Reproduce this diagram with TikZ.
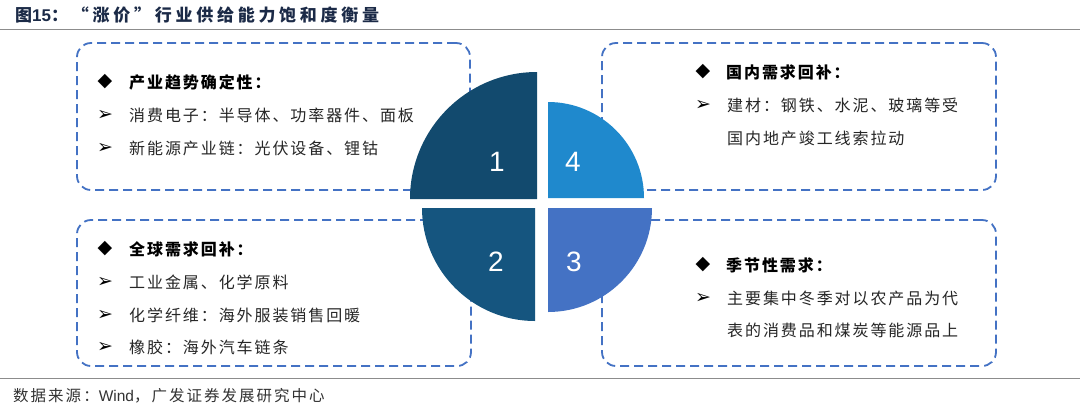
\documentclass[tikz,border=0pt]{standalone}
\usepackage{fontspec}
\setmainfont{Liberation Sans}
\newfontfamily\cjk[LetterSpace=12]{Noto Sans CJK SC}
\newfontfamily\cjktitle[LetterSpace=22]{Noto Sans CJK SC}
\newfontfamily\cjkfoot[LetterSpace=13]{Noto Sans CJK SC}
\newfontfamily\sym{DejaVu Sans}
\definecolor{boxblue}{HTML}{4472C4}
\definecolor{pieceA}{HTML}{124A6E}
\definecolor{pieceB}{HTML}{15557F}
\definecolor{pieceC}{HTML}{4472C4}
\definecolor{pieceD}{HTML}{1F89CD}
\definecolor{titleblue}{HTML}{1B2A47}
\definecolor{rulegray}{HTML}{8C8C8C}
\definecolor{footgray}{HTML}{333333}
\begin{document}
\begin{tikzpicture}[x=1pt,y=-1pt,
  box/.style={draw=boxblue, line width=1.8pt, dash pattern=on 9pt off 5pt, rounded corners=14pt, fill=white, inner sep=0pt},
  txt/.style={anchor=west, inner sep=0pt, font=\cjk\fontsize{16}{18}\selectfont, text=black!85},
  hdr/.style={anchor=west, inner sep=0pt, font=\cjk\bfseries\fontsize{16}{18}\selectfont, text=black},
  bul/.style={inner sep=0pt, font=\sym\fontsize{19}{21}\selectfont, text=black},
  arr/.style={inner sep=0pt, font=\sym\fontsize{19}{21}\selectfont, text=black},
  num/.style={text=white, font=\fontsize{28}{30}\selectfont, inner sep=0pt},
  rule/.style={draw=rulegray, line width=1.3pt}]
\useasboundingbox (0,0) rectangle (1080,408);
\fill[white] (0,0) rectangle (1080,408);
% title and rules
\node[anchor=west, inner sep=0pt, text=titleblue] (title) at (15,15) {\cjktitle\bfseries\fontsize{17}{19}\selectfont 图{\rmfamily 15}：“涨价”行业供给能力饱和度衡量};
\coordinate (r1a) at (0,29.5); \coordinate (r1b) at (1080,29.5);
\draw[rule] (r1a) -- (r1b);
\coordinate (r2a) at (0,378.5); \coordinate (r2b) at (1080,378.5);
\draw[rule] (r2a) -- (r2b);
\node[anchor=west, inner sep=0pt, text=footgray] (src) at (13,396) {\cjkfoot\fontsize{15.5}{17}\selectfont 数据来源：{\rmfamily Wind}，广发证券发展研究中心};
% boxes
\node[box, minimum width=393pt, minimum height=147pt] (b1) at (273.5,116.5) {};
\node[box, minimum width=394pt, minimum height=147pt] (b4) at (799,116.5) {};
\node[box, minimum width=394pt, minimum height=146pt] (b2) at (274,293) {};
\node[box, minimum width=394pt, minimum height=146pt] (b3) at (799,293) {};
% box 1
\node[bul] (b1d) at (105,82) {◆};
\node[hdr] (b1h) at (129,82) {产业趋势确定性：};
\node[arr] (b1a1) at (105,115) {➢};
\node[txt] (b1l1) at (129,115) {消费电子：半导体、功率器件、面板};
\node[arr] (b1a2) at (105,148) {➢};
\node[txt] (b1l2) at (129,148) {新能源产业链：光伏设备、锂钴};
% box 4
\node[bul] (b4d) at (703,72) {◆};
\node[hdr] (b4h) at (726,72) {国内需求回补：};
\node[arr] (b4a1) at (703,105) {➢};
\node[txt] (b4l1) at (727,105) {建材：钢铁、水泥、玻璃等受};
\node[txt] (b4l2) at (727,138) {国内地产竣工线索拉动};
% box 2
\node[bul] (b2d) at (105,249) {◆};
\node[hdr] (b2h) at (129,249) {全球需求回补：};
\node[arr] (b2a1) at (105,282) {➢};
\node[txt] (b2l1) at (129,282) {工业金属、化学原料};
\node[arr] (b2a2) at (105,315) {➢};
\node[txt] (b2l2) at (129,315) {化学纤维：海外服装销售回暖};
\node[arr] (b2a3) at (105,347) {➢};
\node[txt] (b2l3) at (129,347) {橡胶：海外汽车链条};
% box 3
\node[bul] (b3d) at (703,265) {◆};
\node[hdr] (b3h) at (726,265) {季节性需求：};
\node[arr] (b3a1) at (703,298) {➢};
\node[txt] (b3l1) at (727,298) {主要集中冬季对以农产品为代};
\node[txt] (b3l2) at (727,330) {表的消费品和煤炭等能源品上};
% pie pieces
\fill[pieceA] (537,199) -- (410,199) arc[start angle=180, end angle=270, radius=127] -- cycle;
\fill[pieceD] (548,198) -- (548,102) arc[start angle=270, end angle=360, radius=96] -- cycle;
\fill[pieceB] (535,208) -- (422,208) arc[start angle=180, end angle=90, radius=113] -- cycle;
\fill[pieceC] (548,208) -- (652,208) arc[start angle=0, end angle=90, radius=104] -- cycle;
\node[num] (n1) at (497,162) {1};
\node[num] (n4) at (573,162) {4};
\node[num] (n2) at (496,262) {2};
\node[num] (n3) at (574,262) {3};
\end{tikzpicture}
\end{document}
